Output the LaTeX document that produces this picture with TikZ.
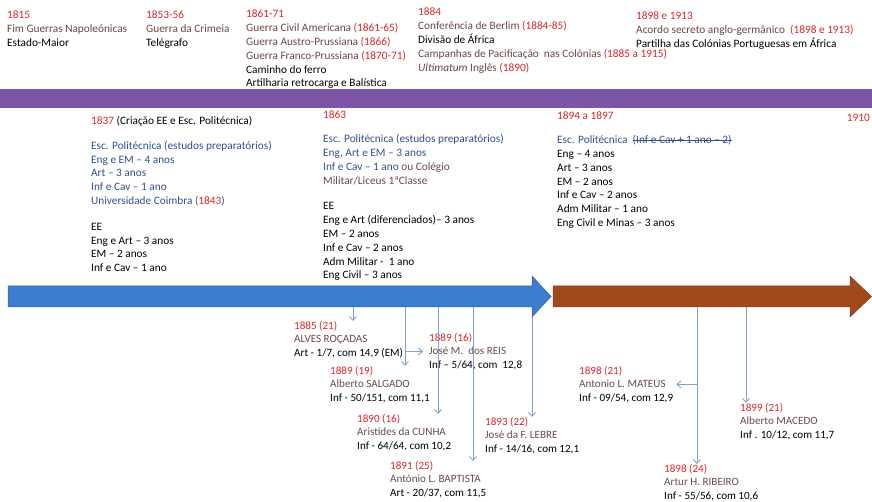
\documentclass[tikz,border=0pt]{standalone}
\usepackage{fontspec}
\setmainfont{Carlito}
\usepackage{tikz}
\usetikzlibrary{positioning,arrows.meta}

\definecolor{yearred}{HTML}{D9252A}
\definecolor{textblue}{HTML}{2E5090}
\definecolor{warbrown}{HTML}{6E4444}
\definecolor{namebrown}{HTML}{6A4A4A}
\definecolor{bandpurple}{HTML}{7D55A6}
\definecolor{arrowblue}{HTML}{3B7DD0}
\definecolor{arrowbrown}{HTML}{A04A1A}
\definecolor{linkblue}{HTML}{7FA3CC}

\newcommand{\ano}[1]{\textcolor{yearred}{#1}}
\newcommand{\lblfont}{\fontsize{11.3}{13.8}\selectfont}
\newlength{\riscolen}
\newcommand{\riscado}[1]{\settowidth{\riscolen}{#1}\rlap{\rule[2.8pt]{\riscolen}{0.6pt}}#1}

\begin{document}
\begin{tikzpicture}[
x=1pt, y=-1pt,
lbl/.style={
  anchor=north west,
  inner sep=0pt,
  align=left,
  font=\lblfont
  },
cand/.style={
  lbl,
  font=\fontsize{11.1}{13.5}\selectfont
  },
link/.style={
  draw=linkblue,
  line width=0.9pt
  },
>={Straight Barb[length=4pt,width=7pt]}
]
\useasboundingbox (0,0) rectangle (872,502);

% top row of events
\node[lbl] (ev1815) at (7,11) {\ano{1815}\\
  \textcolor{warbrown}{Fim Guerras Napoleónicas}\\
  Estado-Maior};
\node[lbl] (ev1853) at (146,11) {\ano{1853-56}\\
  \textcolor{warbrown}{Guerra da Crimeia}\\
  Telégrafo};
\node[lbl] (ev1861) at (246,10) {\ano{1861-71}\\
  \textcolor{warbrown}{Guerra Civil Americana} \ano{(1861-65)}\\
  \textcolor{warbrown}{Guerra Austro-Prussiana} \ano{(1866)}\\
  \textcolor{warbrown}{Guerra Franco-Prussiana} \ano{(1870-71)}\\
  Caminho do ferro\\
  Artilharia retrocarga e Balística};
\node[lbl] (ev1884) at (418,8) {\ano{1884}\\
  \textcolor{warbrown}{Conferência de Berlim} \ano{(1884-85)}\\
  Divisão de África\\
  \textcolor{warbrown}{Campanhas de Pacificação\ \ nas Colónias} \ano{(1885 a 1915)}\\
  \textcolor{warbrown}{\textit{Ultimatum} Inglês} \ano{(1890)}};
\node[lbl] (ev1898) at (636,12) {\ano{1898 e 1913}\\
  \textcolor{warbrown}{Acordo secreto anglo-germânico}\ \ \ano{(1898 e 1913)}\\
  Partilha das Colónias Portuguesas em África};

% purple band
\fill[bandpurple] (0,89) rectangle (872,108);

% teaching periods
\node[lbl] (per1837) at (91,116) {\ano{1837} (Criação EE e Esc. Politécnica)\\[11pt]
  \textcolor{textblue}{Esc. Politécnica (estudos preparatórios)}\\
  \textcolor{textblue}{Eng e EM -- 4 anos}\\
  \textcolor{textblue}{Art -- 3 anos}\\
  \textcolor{textblue}{Inf e Cav -- 1 ano}\\
  \textcolor{textblue}{Universidade Coimbra (}\ano{1843}\textcolor{textblue}{)}\\[12pt]
  EE\\
  Eng e Art -- 3 anos\\
  EM -- 2 anos\\
  Inf e Cav -- 1 ano};
\node[lbl] (per1863) at (323,111) {\ano{1863}\\[10pt]
  \textcolor{textblue}{Esc. Politécnica (estudos preparatórios)}\\
  \textcolor{textblue}{Eng, Art e EM -- 3 anos}\\
  \textcolor{textblue}{Inf e Cav -- 1 ano} \textcolor{warbrown}{ou Colégio}\\
  \textcolor{warbrown}{Militar/Liceus 1ªClasse}\\[12pt]
  EE\\
  Eng e Art (diferenciados)-- 3 anos\\
  EM -- 2 anos\\
  Inf e Cav -- 2 anos\\
  Adm Militar -\ \ 1 ano\\
  Eng Civil -- 3 anos};
\node[lbl] (per1894) at (557,112) {\ano{1894 a 1897}\\[10pt]
  \textcolor{textblue}{Esc. Politécnica\ \ \riscado{(Inf e Cav + 1 ano -- 2)}}\\
  Eng -- 4 anos\\
  Art -- 3 anos\\
  EM -- 2 anos\\
  Inf e Cav -- 2 anos\\
  Adm Militar -- 1 ano\\
  Eng Civil e Minas -- 3 anos};
\node[lbl, anchor=north east] (per1910) at (870,114) {\ano{1910}};

% time arrows
\filldraw[fill=arrowblue, draw=arrowblue!80!black, line width=0.5pt]
  (8,286) -- (532,286) -- (532,276) -- (551,296.5) -- (532,317) -- (532,307) -- (8,307) -- cycle;
\filldraw[fill=arrowbrown, draw=arrowbrown!85!black, line width=0.5pt]
  (553,286) -- (850,286) -- (850,276) -- (871.5,296.5) -- (850,317) -- (850,307) -- (553,307) -- cycle;

\coordinate (s1885) at (353,307);
\coordinate (s1889) at (405,307);
\coordinate (s1890) at (438,307);
\coordinate (s1891) at (473,307);
\coordinate (s1893) at (532,317);
\coordinate (s1898) at (697,307);
\coordinate (s1899) at (746,307);

% officers
\node[cand] (rocadas) at (294,321) {\ano{1885 (21)}\\
  \textcolor{namebrown}{ALVES ROÇADAS}\\
  Art - 1/7, com 14,9 (EM)};
\node[cand] (salgado) at (330,366) {\ano{1889 (19)}\\
  \textcolor{namebrown}{Alberto SALGADO}\\
  Inf - 50/151, com 11,1};
\node[cand] (reis) at (429,333) {\ano{1889 (16)}\\
  \textcolor{namebrown}{José M.\ \ dos REIS}\\
  Inf -- 5/64, com\ \ 12,8};
\node[cand] (cunha) at (357,414) {\ano{1890 (16)}\\
  \textcolor{namebrown}{Aristides da CUNHA}\\
  Inf - 64/64, com 10,2};
\node[cand] (baptista) at (390,461) {\ano{1891 (25)}\\
  \textcolor{namebrown}{António L. BAPTISTA}\\
  Art - 20/37, com 11,5};
\node[cand] (lebre) at (485,417) {\ano{1893 (22)}\\
  \textcolor{namebrown}{José da F. LEBRE}\\
  Inf - 14/16, com 12,1};
\node[cand] (mateus) at (579,366) {\ano{1898 (21)}\\
  \textcolor{namebrown}{Antonio L. MATEUS}\\
  Inf - 09/54, com 12,9};
\node[cand] (macedo) at (740,403) {\ano{1899 (21)}\\
  \textcolor{namebrown}{Alberto MACEDO}\\
  Inf . 10/12, com 11,7};
\node[cand] (ribeiro) at (664,464) {\ano{1898 (24)}\\
  \textcolor{namebrown}{Artur H. RIBEIRO}\\
  Inf - 55/56, com 10,6};

\foreach \s/\n in {s1885/rocadas, s1889/salgado, s1890/cunha, s1891/baptista,
                   s1893/lebre, s1898/ribeiro, s1899/macedo}
  \draw[->, link] (\s) -- (\s |- \n.north);
\draw[->, link] (s1889 |- reis.west) -- ([xshift=-6pt]reis.west);
\draw[->, link] (s1898 |- mateus.east) -- ([xshift=3pt]mateus.east);
\end{tikzpicture}
\end{document}
